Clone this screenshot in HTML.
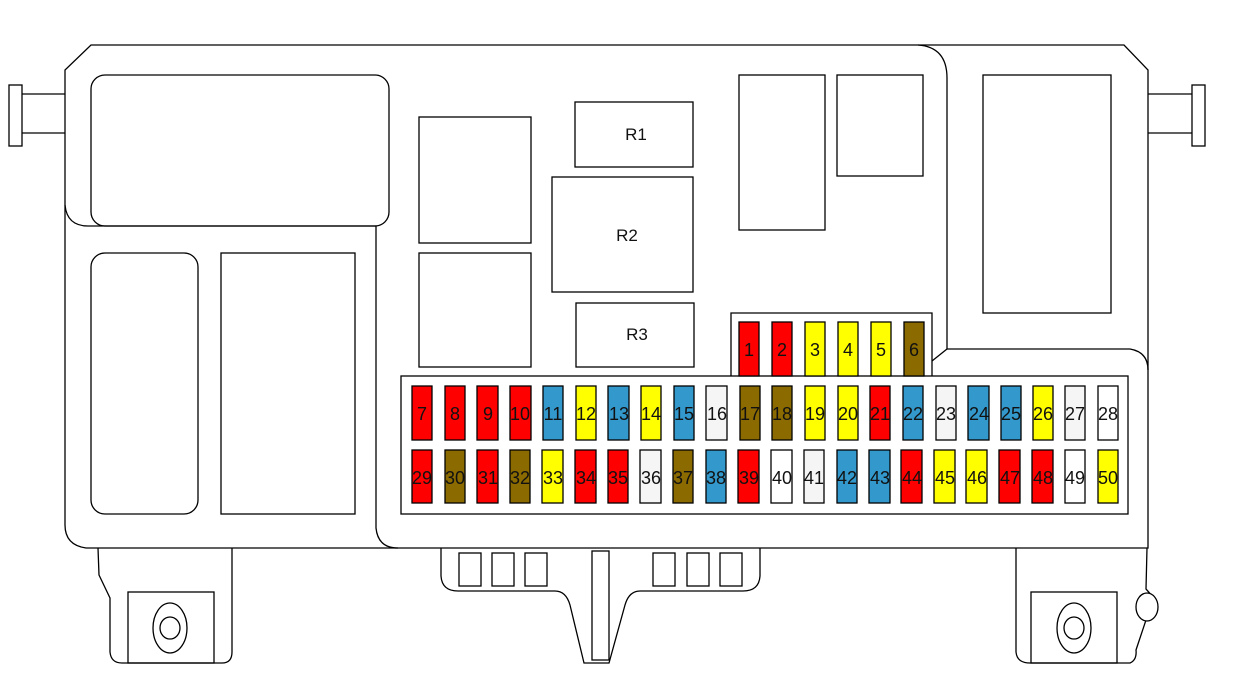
<!DOCTYPE html>
<html><head><meta charset="utf-8"><style>
html,body{margin:0;padding:0;background:#fff;}
svg{display:block;}
text{font-family:"Liberation Sans",Arial,sans-serif;font-size:18px;text-anchor:middle;fill:#111;}
.r{font-size:17px;}
</style></head><body>
<svg width="1233" height="689" viewBox="0 0 1233 689" xmlns="http://www.w3.org/2000/svg">
<g fill="none" stroke="#000" stroke-width="1.3">
<path d="M91,45 L1124,45 L1148,70 L1148,548 L86,548 Q65,545 65,525 L65,70 Z" fill="#fff"/>
<rect x="9" y="85" width="13" height="61" fill="#fff"/>
<line x1="22" y1="94" x2="65" y2="94"/><line x1="22" y1="133" x2="65" y2="133"/>
<rect x="1192" y="85" width="13" height="61" fill="#fff"/>
<line x1="1148" y1="94" x2="1192" y2="94"/><line x1="1148" y1="133" x2="1192" y2="133"/>
<path d="M65,205 Q67,226 88,226 L376,226 L376,528 Q378,548 398,548"/>
<rect x="91" y="75" width="298" height="151" rx="14"/>
<rect x="91" y="253" width="107" height="261" rx="14"/>
<rect x="221" y="253" width="134" height="261"/>
<path d="M918,45 Q947,47 947,78 L947,349 L1130,349 Q1148,352 1148,370"/>
<line x1="947" y1="349" x2="932" y2="361"/>
<rect x="983" y="75" width="128" height="238"/>
<rect x="739" y="75" width="86" height="155"/>
<rect x="837" y="75" width="86" height="101"/>
<rect x="419" y="117" width="112" height="126"/>
<rect x="419" y="253" width="112" height="114"/>
<rect x="575" y="102" width="118" height="65"/>
<rect x="552" y="177" width="141" height="115"/>
<rect x="576" y="303" width="118" height="64"/>
<path d="M731,376 L731,313 L932,313 L932,376"/>
<rect x="401" y="376" width="727" height="138"/>
<path d="M98,548 L99,575 L110,598 L110,652 Q111,663 122,663 L222,663 Q232,663 232,652 L232,548"/>
<rect x="128" y="592" width="86" height="71"/>
<ellipse cx="170" cy="628" rx="17" ry="25"/>
<ellipse cx="170" cy="628" rx="10" ry="11"/>
<path d="M441,548 L441,576 Q442,591 458,591 L555,591 Q566,591 570,605 L584,663 L609,663 L625,605 Q629,591 640,591 L743,591 Q759,591 760,576 L760,548"/>
<rect x="459" y="553" width="22" height="33"/><rect x="492" y="553" width="22" height="33"/><rect x="525" y="553" width="22" height="33"/>
<rect x="653" y="553" width="22" height="33"/><rect x="687" y="553" width="22" height="33"/><rect x="720" y="553" width="22" height="33"/>
<rect x="592" y="551" width="17" height="109"/>
<path d="M1016,548 L1016,652 Q1017,663 1030,663 L1130,663 Q1137,660 1136,650 L1146,620"/>
<path d="M1147,548 L1146,589 Q1150,593 1153,598"/>
<rect x="1031" y="592" width="86" height="71"/>
<ellipse cx="1074" cy="628" rx="17" ry="25"/>
<ellipse cx="1074" cy="628" rx="10" ry="11"/>
<ellipse cx="1147" cy="607" rx="11" ry="14" fill="#fff"/>
</g>
<g>
<text class="r" x="636" y="140">R1</text>
<text class="r" x="627" y="241">R2</text>
<text class="r" x="637" y="340">R3</text>
</g>
<g stroke="#000" stroke-width="1.3">
<rect x="739" y="322" width="20" height="54" fill="#ff0000"/>
<rect x="772" y="322" width="20" height="54" fill="#ff0000"/>
<rect x="805" y="322" width="20" height="54" fill="#ffff00"/>
<rect x="838" y="322" width="20" height="54" fill="#ffff00"/>
<rect x="871" y="322" width="20" height="54" fill="#ffff00"/>
<rect x="904" y="322" width="20" height="54" fill="#8b6b00"/>
<rect x="412" y="386" width="20" height="54" fill="#ff0000"/>
<rect x="445" y="386" width="20" height="54" fill="#ff0000"/>
<rect x="477" y="386" width="21" height="54" fill="#ff0000"/>
<rect x="510" y="386" width="21" height="54" fill="#ff0000"/>
<rect x="543" y="386" width="20" height="54" fill="#3399cc"/>
<rect x="576" y="386" width="20" height="54" fill="#ffff00"/>
<rect x="608" y="386" width="21" height="54" fill="#3399cc"/>
<rect x="641" y="386" width="20" height="54" fill="#ffff00"/>
<rect x="674" y="386" width="20" height="54" fill="#3399cc"/>
<rect x="706" y="386" width="21" height="54" fill="#f5f5f5"/>
<rect x="740" y="386" width="20" height="54" fill="#8b6b00"/>
<rect x="772" y="386" width="20" height="54" fill="#8b6b00"/>
<rect x="805" y="386" width="20" height="54" fill="#ffff00"/>
<rect x="838" y="386" width="20" height="54" fill="#ffff00"/>
<rect x="870" y="386" width="20" height="54" fill="#ff0000"/>
<rect x="903" y="386" width="20" height="54" fill="#3399cc"/>
<rect x="936" y="386" width="20" height="54" fill="#f5f5f5"/>
<rect x="968" y="386" width="21" height="54" fill="#3399cc"/>
<rect x="1001" y="386" width="20" height="54" fill="#3399cc"/>
<rect x="1033" y="386" width="20" height="54" fill="#ffff00"/>
<rect x="1065" y="386" width="20" height="54" fill="#f5f5f5"/>
<rect x="1098" y="386" width="20" height="54" fill="#ffffff"/>
<rect x="412" y="450" width="20" height="53" fill="#ff0000"/>
<rect x="445" y="450" width="20" height="53" fill="#8b6b00"/>
<rect x="477" y="450" width="21" height="53" fill="#ff0000"/>
<rect x="510" y="450" width="20" height="53" fill="#8b6b00"/>
<rect x="542" y="450" width="21" height="53" fill="#ffff00"/>
<rect x="575" y="450" width="21" height="53" fill="#ff0000"/>
<rect x="608" y="450" width="20" height="53" fill="#ff0000"/>
<rect x="640" y="450" width="21" height="53" fill="#f5f5f5"/>
<rect x="673" y="450" width="20" height="53" fill="#8b6b00"/>
<rect x="706" y="450" width="20" height="53" fill="#3399cc"/>
<rect x="738" y="450" width="21" height="53" fill="#ff0000"/>
<rect x="771" y="450" width="21" height="53" fill="#ffffff"/>
<rect x="804" y="450" width="20" height="53" fill="#f5f5f5"/>
<rect x="837" y="450" width="20" height="53" fill="#3399cc"/>
<rect x="869" y="450" width="21" height="53" fill="#3399cc"/>
<rect x="901" y="450" width="21" height="53" fill="#ff0000"/>
<rect x="934" y="450" width="21" height="53" fill="#ffff00"/>
<rect x="966" y="450" width="21" height="53" fill="#ffff00"/>
<rect x="999" y="450" width="21" height="53" fill="#ff0000"/>
<rect x="1032" y="450" width="21" height="53" fill="#ff0000"/>
<rect x="1065" y="450" width="20" height="53" fill="#ffffff"/>
<rect x="1098" y="450" width="20" height="53" fill="#ffff00"/>
</g>
<g>
<text x="749" y="356">1</text><text x="782" y="356">2</text><text x="815" y="356">3</text><text x="848" y="356">4</text><text x="881" y="356">5</text><text x="914" y="356">6</text>
<text x="422" y="420">7</text><text x="455" y="420">8</text><text x="488" y="420">9</text><text x="520" y="420">10</text><text x="553" y="420">11</text><text x="586" y="420">12</text><text x="619" y="420">13</text><text x="651" y="420">14</text><text x="684" y="420">15</text><text x="717" y="420">16</text><text x="750" y="420">17</text><text x="782" y="420">18</text><text x="815" y="420">19</text><text x="848" y="420">20</text><text x="880" y="420">21</text><text x="913" y="420">22</text><text x="946" y="420">23</text><text x="979" y="420">24</text><text x="1011" y="420">25</text><text x="1043" y="420">26</text><text x="1075" y="420">27</text><text x="1108" y="420">28</text>
<text x="422" y="484">29</text><text x="455" y="484">30</text><text x="488" y="484">31</text><text x="520" y="484">32</text><text x="553" y="484">33</text><text x="586" y="484">34</text><text x="618" y="484">35</text><text x="651" y="484">36</text><text x="683" y="484">37</text><text x="716" y="484">38</text><text x="749" y="484">39</text><text x="782" y="484">40</text><text x="814" y="484">41</text><text x="847" y="484">42</text><text x="880" y="484">43</text><text x="912" y="484">44</text><text x="945" y="484">45</text><text x="977" y="484">46</text><text x="1010" y="484">47</text><text x="1043" y="484">48</text><text x="1075" y="484">49</text><text x="1108" y="484">50</text>
</g>
</svg>
</body></html>
